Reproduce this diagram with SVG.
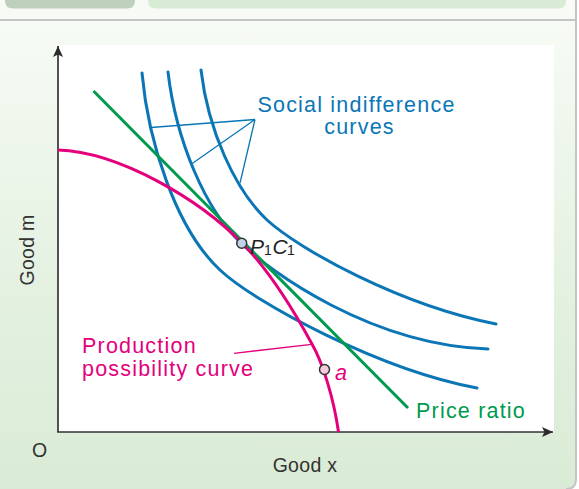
<svg xmlns="http://www.w3.org/2000/svg" width="579" height="489" viewBox="0 0 579 489">
  <defs>
    <linearGradient id="panelGrad" x1="0" y1="20" x2="0" y2="489" gradientUnits="userSpaceOnUse">
      <stop offset="0" stop-color="#f7fbf5"/>
      <stop offset="0.5" stop-color="#e6f2e3"/>
      <stop offset="1" stop-color="#d9ebd5"/>
    </linearGradient>
    <marker id="arrow" markerUnits="userSpaceOnUse" markerWidth="12" markerHeight="11" refX="11" refY="5" orient="auto">
      <path d="M0,0 L11,5 L0,10 L2.5,5 Z" fill="#2b2b2b"/>
    </marker>
  </defs>
  <style>
    .lbl { font-family: "Liberation Sans", Arial, sans-serif; font-size: 21.5px; letter-spacing: 1.2px; }
    .ax { font-family: "Liberation Sans", Arial, sans-serif; font-size: 19.5px; fill: #333; letter-spacing: 0.3px; }
    .blue { fill: #0b76b6; }
    .pink { fill: #e4007d; }
    .green { fill: #009a4e; }
    .icurve { fill: none; stroke: #0b76b6; stroke-width: 3; stroke-linecap: round; }
    .lead { fill: none; stroke-width: 1.3; }
    .axis { fill: none; stroke: #333; stroke-width: 1.7; }
    .pt { stroke: #333; stroke-width: 1.5; }
    .pc { font-family: "Liberation Sans", Arial, sans-serif; fill: #222; }
  </style>

  <!-- frame -->
  <g id="frame">
    <rect x="0" y="0" width="579" height="489" fill="#ffffff"/>
    <rect x="0" y="0" width="576" height="20" fill="#f7faf5"/>
    <path d="M5,-10 H135 V0.5 Q135,8.5 127,8.5 H13 Q5,8.5 5,0.5 Z" fill="#bed0bc"/>
    <path d="M148,-10 H566 V0.5 Q566,8.5 558,8.5 H156 Q148,8.5 148,0.5 Z" fill="#d8ecd5"/>
    <path d="M0,20 H576 V479 Q576,489 566,489 H0 Z" fill="url(#panelGrad)"/>
    <line x1="0" y1="20" x2="576" y2="20" stroke="#c4c4c4" stroke-width="2"/>
    <path d="M576,0 V479 Q576,489 566,489" fill="none" stroke="#c4c4c4" stroke-width="2"/>
    <rect x="57" y="45" width="497" height="387" fill="#ffffff"/>
  </g>

  <g id="connectors">
    <!-- axes -->
    <line class="axis" x1="58" y1="432" x2="58" y2="46" marker-end="url(#arrow)"/>
    <line class="axis" x1="57" y1="432" x2="553" y2="432" marker-end="url(#arrow)"/>
    <!-- leader lines -->
    <path class="lead" stroke="#0b76b6" d="M255,119.5 L151,127.5 M255,119.5 L191.5,164 M255,119.5 L240,183"/>
    <path class="lead" stroke="#e4007d" d="M234,353.3 L311.7,344.3"/>
  </g>

  <g id="indifference-curves">
    <path id="ic1" class="icurve" d="M142,73 C148,140 175,228 220,270 C255,303 380,370 477,388"/>
    <path id="ic2" class="icurve" d="M168,72 C176,140 205,210 242,244 C268,270 370,345 488,349"/>
    <path id="ic3" class="icurve" d="M201,70 C208,130 235,190 267,220 C300,250 400,305 496,324"/>
  </g>

  <g id="price-ratio">
    <line x1="93.5" y1="91" x2="408" y2="408" stroke="#009a4e" stroke-width="3"/>
  </g>

  <g id="ppc">
    <path d="M58,150 C120,152 200,200 242,243 C267,268 294,311 312,344 C323,363 334,400 338.5,432" fill="none" stroke="#e4007d" stroke-width="3"/>
  </g>

  <g id="point-p1c1">
    <circle class="pt" cx="241.7" cy="243.3" r="5" fill="#c0d3ea"/>
    <text class="pc" x="250" y="253.5" font-size="21" font-style="italic">P</text>
    <text class="pc" x="264" y="255" font-size="14">1</text>
    <text class="pc" x="272.5" y="253.5" font-size="21" font-style="italic">C</text>
    <text class="pc" x="287" y="255" font-size="14">1</text>
  </g>

  <g id="point-a">
    <circle class="pt" cx="324.5" cy="369.5" r="5" fill="#f6cadb"/>
    <text class="lbl pink" x="335" y="380" font-style="italic">a</text>
  </g>

  <g id="labels">
    <text class="lbl blue" x="356.5" y="112" text-anchor="middle">Social indifference</text>
    <text class="lbl blue" x="359.5" y="134" text-anchor="middle">curves</text>
    <text class="lbl pink" x="82" y="353">Production</text>
    <text class="lbl pink" x="82" y="375.5">possibility curve</text>
    <text class="lbl green" x="416" y="418">Price ratio</text>
    <text class="ax" x="32" y="457">O</text>
    <text class="ax" x="305" y="472" text-anchor="middle">Good x</text>
    <text class="ax" transform="translate(34,250) rotate(-90)" text-anchor="middle">Good m</text>
  </g>
</svg>
